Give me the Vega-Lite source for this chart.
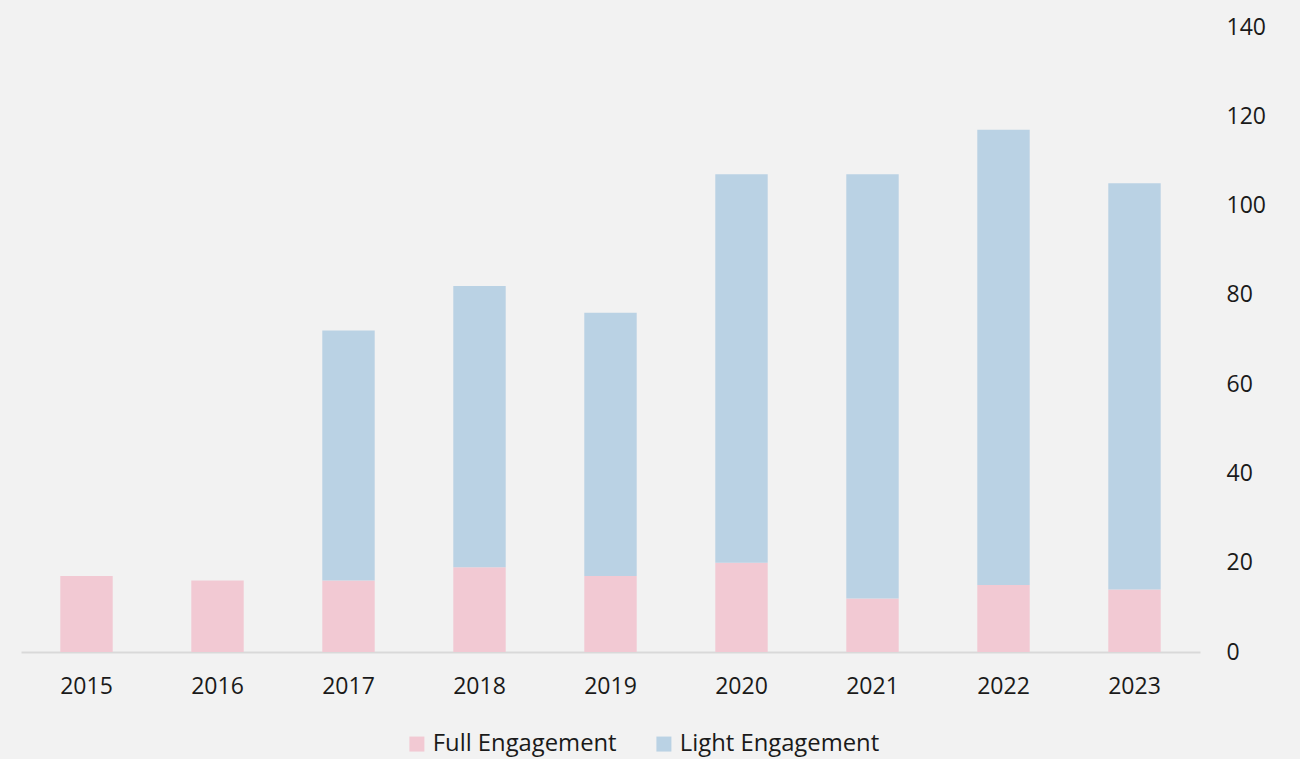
{
  "$schema": "https://vega.github.io/schema/vega-lite/v6.json",
  "width": 1179,
  "height": 625,
  "autosize": {"type": "none"},
  "padding": {"left": 21, "top": 27, "right": 100, "bottom": 107},
  "background": "#f2f2f2",
  "config": {
    "view": {"stroke": null},
    "font": "Open Sans",
    "axis": {"labelFont": "Open Sans", "labelFontSize": 23, "labelColor": "#1a1a1a"},
    "legend": {"labelFont": "Open Sans", "labelFontSize": 23.8, "labelColor": "#1a1a1a", "labelLimit": 0}
  },
  "data": {
    "values": [
      {"year": "2015", "type": "Full Engagement", "value": 17},
      {"year": "2016", "type": "Full Engagement", "value": 16},
      {"year": "2017", "type": "Full Engagement", "value": 16},
      {"year": "2017", "type": "Light Engagement", "value": 56},
      {"year": "2018", "type": "Full Engagement", "value": 19},
      {"year": "2018", "type": "Light Engagement", "value": 63},
      {"year": "2019", "type": "Full Engagement", "value": 17},
      {"year": "2019", "type": "Light Engagement", "value": 59},
      {"year": "2020", "type": "Full Engagement", "value": 20},
      {"year": "2020", "type": "Light Engagement", "value": 87},
      {"year": "2021", "type": "Full Engagement", "value": 12},
      {"year": "2021", "type": "Light Engagement", "value": 95},
      {"year": "2022", "type": "Full Engagement", "value": 15},
      {"year": "2022", "type": "Light Engagement", "value": 102},
      {"year": "2023", "type": "Full Engagement", "value": 14},
      {"year": "2023", "type": "Light Engagement", "value": 91}
    ]
  },
  "mark": {"type": "bar"},
  "encoding": {
    "x": {
      "field": "year", "type": "nominal",
      "scale": {"paddingInner": 0.6, "paddingOuter": 0.3},
      "axis": {"title": null, "labelAngle": 0, "ticks": false, "domainColor": "#d9d9d9", "domainWidth": 2, "labelPadding": 23}
    },
    "y": {
      "field": "value", "type": "quantitative", "stack": "zero",
      "scale": {"domain": [0, 140]},
      "axis": {"title": null, "orient": "right", "values": [0, 20, 40, 60, 80, 100, 120, 140], "grid": false, "domain": false, "ticks": false, "labelPadding": 26, "labelAlign": "left"}
    },
    "color": {
      "field": "type", "type": "nominal",
      "scale": {"domain": ["Full Engagement", "Light Engagement"], "range": ["#f2c9d3", "#bad2e4"]},
      "legend": {"title": null, "orient": "none", "direction": "horizontal", "legendX": 384, "legendY": 705, "symbolType": "square", "symbolSize": 225, "columnPadding": 35, "labelOffset": 4}
    },
    "order": {"field": "type", "sort": "ascending"}
  }
}
